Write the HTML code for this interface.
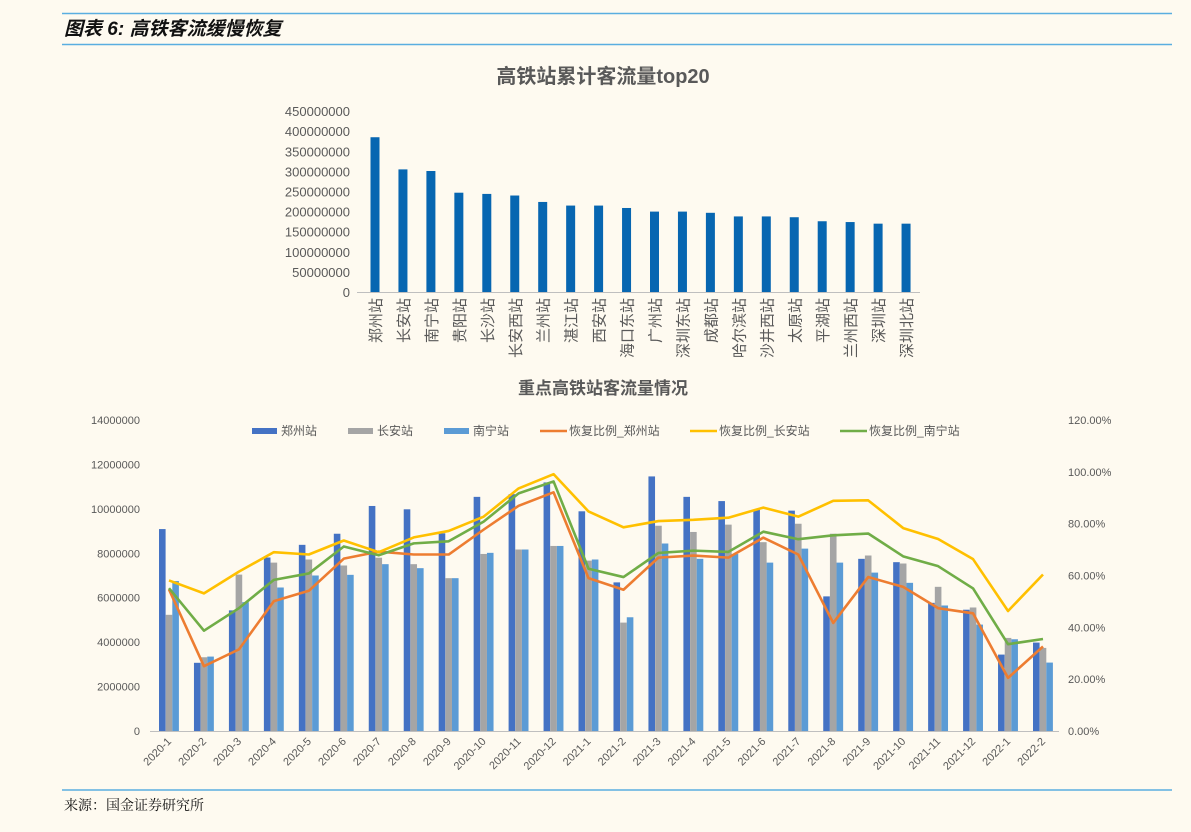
<!DOCTYPE html>
<html><head><meta charset="utf-8">
<style>
body{margin:0;background:#fefaf0;width:1191px;height:832px;overflow:hidden;font-family:"Liberation Sans","Noto Sans CJK SC",sans-serif;}
svg{position:absolute;left:0;top:0}
</style></head>
<body>
<svg id="s" width="1191" height="832" xmlns="http://www.w3.org/2000/svg">
<rect width="1191" height="832" fill="#fefaf0"/>
<line x1="62" y1="13.5" x2="1172" y2="13.5" stroke="#5aaee0" stroke-width="1.5"/>
<line x1="62" y1="44.5" x2="1172" y2="44.5" stroke="#5aaee0" stroke-width="1.5"/>
<text x="64" y="35" font-size="19" font-weight="bold" font-style="italic" fill="#111" font-family="'Liberation Sans','Noto Sans CJK SC',sans-serif">图表 6:  高铁客流缓慢恢复</text>
<line x1="62" y1="790" x2="1172" y2="790" stroke="#5aaee0" stroke-width="1.5"/>
<text x="64" y="810" font-size="14" fill="#111" font-family="'Noto Serif CJK SC',serif">来源：国金证券研究所</text>
<text x="603" y="83" font-size="20" font-weight="bold" fill="#595959" text-anchor="middle">高铁站累计客流量top20</text>
<text x="603" y="394" font-size="17" font-weight="bold" fill="#595959" text-anchor="middle">重点高铁站客流量情况</text>
<g id="g"></g>
</svg>
<script>
var g=document.getElementById('g'),h='';
function T(x,y,t,o){h+='<text x="'+x+'" y="'+y+'" '+(o||'')+'>'+t+'</text>';}
var names=["郑州站","长安站","南宁站","贵阳站","长沙站","长安西站","兰州站","湛江站","西安站","海口东站","广州站","深圳东站","成都站","哈尔滨站","沙井西站","太原站","平湖站","兰州西站","深圳站","深圳北站"];
var vals=[385,305,301,247,244,240,224,215,215,209,200,200,197,188,188,186,176,174,170,170];
for(var i=0;i<=9;i++){var y=292-i*20.1;T(350,y+5,i==0?'0':(i*50000000),'font-size="13" fill="#595959" text-anchor="end"');}
h+='<line x1="357" y1="292.5" x2="920" y2="292.5" stroke="#bfbfbf"/>';
for(i=0;i<20;i++){var cx=375+i*27.95,bh=vals[i]/50*20.1;h+='<rect x="'+(cx-4.5)+'" y="'+(292-bh)+'" width="9" height="'+bh+'" fill="#0766b1"/>';
T(cx+6,298,names[i],'font-size="15" fill="#595959" text-anchor="end" transform="rotate(-90 '+(cx+6)+' 298)"');}
var cats=[],z=[9.09,3.07,5.43,7.81,8.38,8.88,10.13,9.98,8.9,10.54,10.66,11.19,9.89,6.69,11.46,10.54,10.35,9.96,9.92,6.06,7.75,7.6,5.77,5.46,3.44,3.98],
c=[5.23,3.32,7.04,7.58,7.72,7.45,7.8,7.51,6.88,7.97,8.17,8.33,7.67,4.88,9.24,8.96,9.29,8.5,9.33,8.88,7.9,7.54,6.49,5.56,4.19,3.74],
n=[6.75,3.35,5.8,6.46,7.0,7.03,7.51,7.33,6.88,8.02,8.17,8.33,7.72,5.12,8.44,7.75,7.97,7.58,8.21,7.58,7.13,6.67,5.65,4.79,4.13,3.08],
o=[54.6,25,31.5,50.1,54.1,66.5,69.2,68.1,68.1,77.7,86.9,92.1,59,54.5,66.9,67.7,66.9,74.6,68.1,41.7,59.4,55.6,47.4,45.4,20.5,32.6],
yl=[58.1,53.1,61.5,69,68.1,73.5,69,74.7,77.2,82.7,93.6,99.1,84.7,78.6,81,81.5,82.3,86.2,82.7,88.8,89,78.3,74.1,66.3,46.3,60.4],
gr=[55.1,38.7,47.4,58.3,60.8,71.2,67.8,72.4,73.2,80.8,91.7,96.3,62.6,59.4,68.7,69.6,69.1,76.9,74,75.5,76.2,67.4,63.6,55,33.5,35.5];
for(i=1;i<=12;i++)cats.push('2020-'+i);for(i=1;i<=12;i++)cats.push('2021-'+i);cats.push('2022-1','2022-2');
var Y0=731,pm=(731-420)/14,pp=(731-420)/120;
for(i=0;i<=7;i++){var y=Y0-i*2*pm;T(140,y+4,i==0?'0':(i*2000000),'font-size="11" fill="#595959" text-anchor="end"');}
for(i=0;i<=6;i++){var y=Y0-i*20*pp;T(1068,y+4,(i*20).toFixed(2)+'%','font-size="11" fill="#595959"');}
for(i=0;i<26;i++){var cx=169+i*34.96;
h+='<rect x="'+(cx-10)+'" y="'+(Y0-z[i]*pm)+'" width="6.6" height="'+z[i]*pm+'" fill="#4472c4"/>';
h+='<rect x="'+(cx-3.3)+'" y="'+(Y0-c[i]*pm)+'" width="6.6" height="'+c[i]*pm+'" fill="#a5a5a5"/>';
h+='<rect x="'+(cx+3.3)+'" y="'+(Y0-n[i]*pm)+'" width="6.6" height="'+n[i]*pm+'" fill="#5b9bd5"/>';
T(cx+3,742,cats[i],'font-size="11" fill="#595959" text-anchor="end" transform="rotate(-45 '+(cx+3)+' 742)"');}
h+='<line x1="150" y1="731.5" x2="1059" y2="731.5" stroke="#bfbfbf"/>';
function L(d,col){var p='';for(var i=0;i<26;i++)p+=(169+i*34.96)+','+(Y0-d[i]*pp)+' ';h+='<polyline points="'+p+'" fill="none" stroke="'+col+'" stroke-width="2.6" stroke-linejoin="round"/>';}
L(o,'#ed7d31');L(yl,'#ffc000');L(gr,'#70ad47');
var lg=[[252,'郑州站','#4472c4',0],[348,'长安站','#a5a5a5',0],[444,'南宁站','#5b9bd5',0],[540,'恢复比例_郑州站','#ed7d31',1],[690,'恢复比例_长安站','#ffc000',1],[840,'恢复比例_南宁站','#70ad47',1]];
lg.forEach(function(l){if(l[3])h+='<line x1="'+l[0]+'" y1="431" x2="'+(l[0]+27)+'" y2="431" stroke="'+l[2]+'" stroke-width="2.6"/>';else h+='<rect x="'+l[0]+'" y="428" width="25" height="6" fill="'+l[2]+'"/>';T(l[0]+29,435,l[1],'font-size="12" fill="#595959"');});
g.innerHTML=h;
</script>
</body></html>
